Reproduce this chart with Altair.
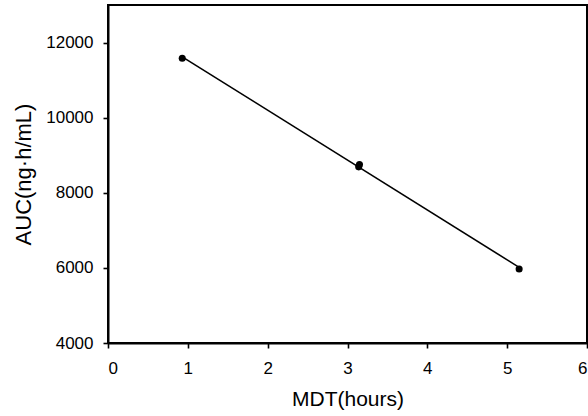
import altair as alt
import pandas as pd

# Mean dissolution time vs. exposure
mdt_hours = [0.93, 3.14, 3.15, 5.15]
auc_values = [11580, 8690, 8750, 5970]

df = pd.DataFrame({"MDT": mdt_hours, "AUC": auc_values})

x_ticks = [0, 1, 2, 3, 4, 5, 6]
y_ticks = [4000, 6000, 8000, 10000, 12000]

font = "Liberation Sans"

x_enc = alt.X(
    "MDT:Q",
    scale=alt.Scale(domain=[0, 6], nice=False, zero=False),
    axis=alt.Axis(
        title="MDT(hours)",
        values=x_ticks,
        format="d",
        grid=False,
        labelPadding=12,
        titlePadding=12,
        titleFontSize=21,
    ),
)
y_enc = alt.Y(
    "AUC:Q",
    scale=alt.Scale(domain=[4000, 13000], nice=False, zero=False),
    axis=alt.Axis(
        title="AUC(ng·h/mL)",
        values=y_ticks,
        format="d",
        grid=False,
        labelPadding=10,
        titlePadding=10,
        titleFontSize=22,
    ),
)

fit = (
    alt.Chart(df)
    .transform_regression("MDT", "AUC")
    .mark_line(color="black", strokeWidth=1.6)
    .encode(x=x_enc, y=y_enc)
)

pts = (
    alt.Chart(df)
    .mark_circle(color="black", opacity=1, size=50)
    .encode(x=x_enc, y=y_enc)
)

chart = (
    alt.layer(fit, pts)
    .properties(
        width=479,
        height=338,
        autosize=alt.AutoSizeParams(type="none"),
        padding={"left": 108, "top": 5, "right": 1, "bottom": 73},
        background="white",
    )
    .configure_view(stroke="black", strokeWidth=2)
    .configure_axis(
        domainColor="black",
        domainWidth=2,
        tickColor="black",
        tickWidth=1.6,
        tickSize=5,
        labelColor="black",
        labelFont=font,
        labelFontSize=17,
        titleColor="black",
        titleFont=font,
        titleFontWeight="normal",
    )
)

chart.save("out.html", embed_options={"renderer": "svg", "actions": False})
